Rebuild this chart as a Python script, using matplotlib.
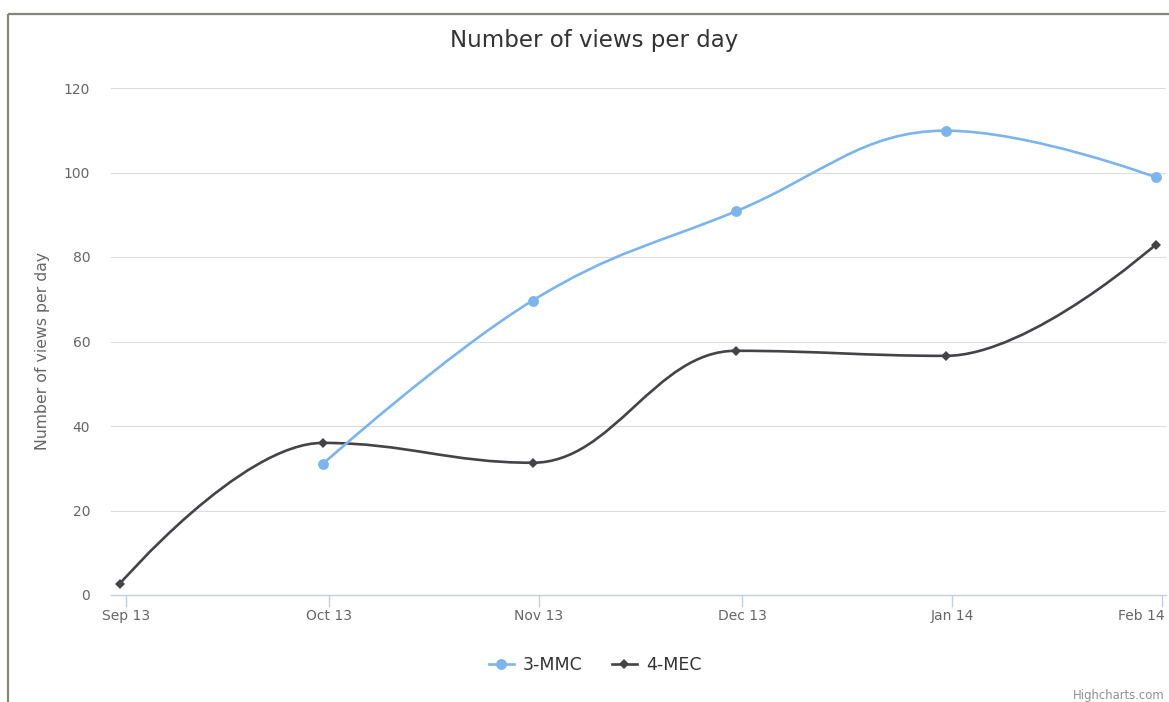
import matplotlib
matplotlib.use("Agg")
import matplotlib.pyplot as plt
import matplotlib.dates as mdates
import matplotlib.transforms as mtransforms
from matplotlib.path import Path
from matplotlib.patches import PathPatch
from matplotlib.lines import Line2D
from datetime import datetime

# ---------------- data ----------------
months = ["2013-09-01", "2013-10-01", "2013-11-01", "2013-12-01", "2014-01-01", "2014-02-01"]
tick_labels = ["Sep 13", "Oct 13", "Nov 13", "Dec 13", "Jan 14", "Feb 14"]

mmc_dates = ["2013-10-01", "2013-11-01", "2013-12-01", "2014-01-01", "2014-02-01"]
mmc_values = [31.0, 69.7, 90.8, 109.9, 98.9]

mec_dates = ["2013-09-01", "2013-10-01", "2013-11-01", "2013-12-01", "2014-01-01", "2014-02-01"]
mec_values = [2.6, 36.0, 31.3, 57.8, 56.6, 82.9]

y_ticks = [0, 20, 40, 60, 80, 100, 120]

# ---------------- style ----------------
W, H = 1169, 702
POINT_SHIFT = -0.95          # points are drawn ~1 day before the month tick
C_MMC = "#7cb5ec"
C_MEC = "#434348"
AXIS_C = "#c0d0e0"
GRID_C = "#dcdcdc"
LABEL_C = "#666666"
plt.rcParams["font.family"] = ["DejaVu Sans"]


def to_num(ds):
    return [mdates.date2num(datetime.strptime(d, "%Y-%m-%d")) for d in ds]


def hc_spline(xs, ys, smoothing=1.5):
    n = len(xs)
    lc = [None] * n
    rc = [None] * n
    for i in range(n):
        if 0 < i < n - 1:
            d = smoothing + 1
            lX = (smoothing * xs[i] + xs[i - 1]) / d
            lY = (smoothing * ys[i] + ys[i - 1]) / d
            rX = (smoothing * xs[i] + xs[i + 1]) / d
            rY = (smoothing * ys[i] + ys[i + 1]) / d
            if rX != lX:
                corr = ((rY - lY) * (rX - xs[i])) / (rX - lX) + ys[i] - rY
                lY += corr
                rY += corr
            if lY > ys[i - 1] and lY > ys[i]:
                lY = max(ys[i - 1], ys[i]); rY = 2 * ys[i] - lY
            elif lY < ys[i - 1] and lY < ys[i]:
                lY = min(ys[i - 1], ys[i]); rY = 2 * ys[i] - lY
            if rY > ys[i + 1] and rY > ys[i]:
                rY = max(ys[i + 1], ys[i]); lY = 2 * ys[i] - rY
            elif rY < ys[i + 1] and rY < ys[i]:
                rY = min(ys[i + 1], ys[i]); lY = 2 * ys[i] - rY
            lc[i] = (lX, lY)
            rc[i] = (rX, rY)
        else:
            lc[i] = rc[i] = (xs[i], ys[i])
    verts = [(xs[0], ys[0])]
    codes = [Path.MOVETO]
    for i in range(1, n):
        verts += [rc[i - 1], lc[i], (xs[i], ys[i])]
        codes += [Path.CURVE4] * 3
    return Path(verts, codes)


fig = plt.figure(figsize=(W / 100, H / 100), dpi=100)
fig.patch.set_facecolor("white")

left, right, top, bottom = 111, 1166, 88, 595
ax = fig.add_axes([left / W, 1 - bottom / H, (right - left) / W, (bottom - top) / H])

month_x = to_num(months)
px_per_day = (1162 - 126) / (month_x[-1] - month_x[0])
ax.set_xlim(month_x[0] - (126 - left) / px_per_day, month_x[-1] + (right - 1162) / px_per_day)
ax.set_ylim(0, 120)

# grid
for yv in y_ticks[1:]:
    ax.axhline(yv, color=GRID_C, lw=0.8, zorder=0)

# series
mec_x = [v + POINT_SHIFT for v in to_num(mec_dates)]
mmc_x = [v + POINT_SHIFT for v in to_num(mmc_dates)]

ax.add_patch(PathPatch(hc_spline(mec_x, mec_values), fill=False, edgecolor=C_MEC,
                       lw=1.9, capstyle="round", joinstyle="round", zorder=3))
ax.plot(mec_x, mec_values, linestyle="none", marker="D", ms=5.3, color=C_MEC,
        markeredgewidth=0, zorder=4, clip_on=False)

ax.add_patch(PathPatch(hc_spline(mmc_x, mmc_values), fill=False, edgecolor=C_MMC,
                       lw=1.9, capstyle="round", joinstyle="round", zorder=5))
ax.plot(mmc_x, mmc_values, linestyle="none", marker="o", ms=7.8, color=C_MMC,
        markeredgewidth=0, zorder=6, clip_on=False)

# axes styling
for s in ["top", "right", "left"]:
    ax.spines[s].set_visible(False)
ax.spines["bottom"].set_color(AXIS_C)
ax.spines["bottom"].set_linewidth(1.0)

ax.set_yticks(y_ticks)
ax.set_yticklabels([str(v) for v in y_ticks])
ax.tick_params(axis="y", length=0, pad=15, labelsize=10, labelcolor=LABEL_C)

ax.set_xticks(month_x)
ax.set_xticklabels(tick_labels)
ax.tick_params(axis="x", length=8.6, width=1.0, color=AXIS_C, pad=1.5,
               labelsize=10, labelcolor=LABEL_C)
last = ax.get_xticklabels()[-1]
last.set_ha("right")
last.set_transform(last.get_transform() + mtransforms.ScaledTranslation(3 / 100, 0, fig.dpi_scale_trans))

ax.set_ylabel("Number of views per day", fontsize=11.3, color=LABEL_C)
ax.yaxis.set_label_coords(42.5 / W, 0.5, transform=fig.transFigure)
ax.yaxis.label.set_va("center")

# title
fig.text(594.5 / W, 1 - 40 / H, "Number of views per day", ha="center", va="center",
         fontsize=16.5, color="#333333")

# legend
handles = [
    Line2D([], [], color=C_MMC, lw=1.9, marker="o", ms=7.8, markeredgewidth=0),
    Line2D([], [], color=C_MEC, lw=1.9, marker="D", ms=5.3, markeredgewidth=0),
]
fig.legend(handles, ["3-MMC", "4-MEC"], loc="center", bbox_to_anchor=(595 / W, 1 - 665 / H),
           ncol=2, frameon=False, fontsize=12.5, handlelength=1.45, handletextpad=0.5,
           columnspacing=1.7, labelcolor="#333333")

# credits
fig.text(1165 / W, 1 - 696 / H, "Highcharts.com", ha="right", va="center",
         fontsize=8.4, color="#909090")

# container border (left and top)
bc = "#85857d"
fig.add_artist(Line2D([8 / W, 8 / W], [0, 1 - 14 / H], color=bc, lw=1.6,
                      transform=fig.transFigure, solid_capstyle="butt"))
fig.add_artist(Line2D([8 / W, 1], [1 - 14 / H, 1 - 14 / H], color=bc, lw=1.6,
                      transform=fig.transFigure, solid_capstyle="butt"))

fig.savefig("out.png", dpi=100, facecolor="white")
